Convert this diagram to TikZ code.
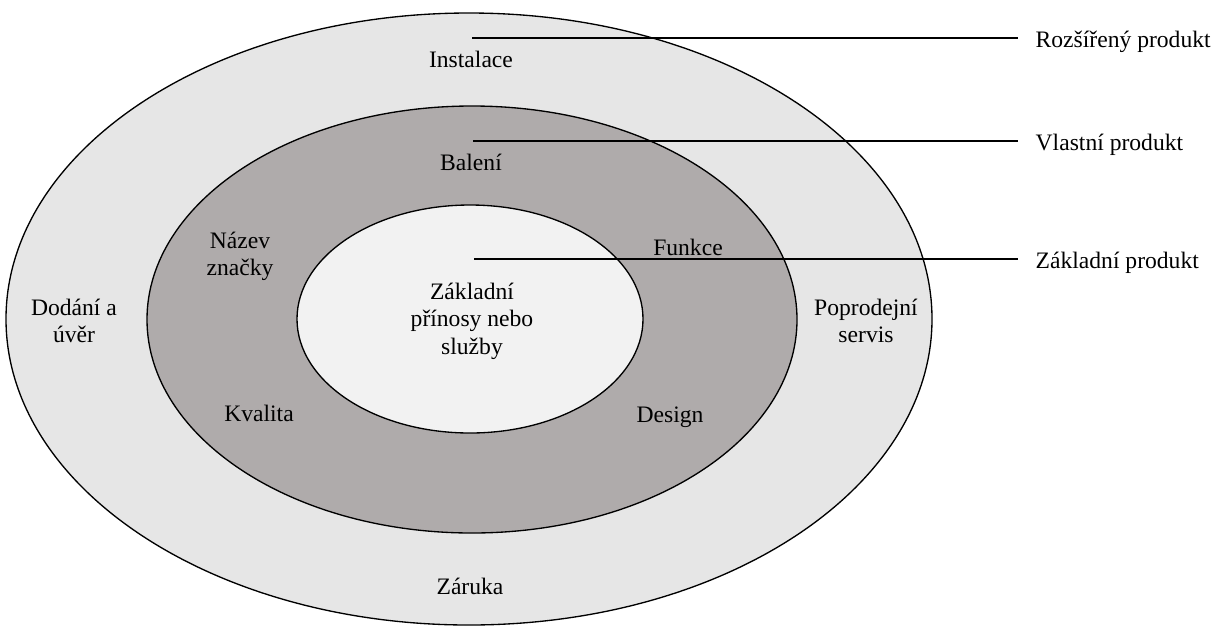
\documentclass[tikz,border=0pt]{standalone}
\usepackage{fontspec}
\setmainfont{Liberation Serif}
\definecolor{ringout}{RGB}{230,230,230}
\definecolor{ringmid}{RGB}{175,171,171}
\definecolor{ringin}{RGB}{242,242,242}

\begin{document}
\begin{tikzpicture}[x=0.75pt, y=-0.75pt, line width=1pt]
			\tikzstyle{every node} = [font=\fontsize{17.7}{20.5}\selectfont, align=center, inner sep=0pt]
			\tikzstyle{tag} = [anchor=west, inner xsep=12.75pt]
			\useasboundingbox (0,0) rectangle (1223,626);
			\fill[white] (0,0) rectangle (1223,626);
			% three product levels
			\draw[fill=ringout] (469,319) ellipse [x radius=463, y radius=306];
			\draw[fill=ringmid] (472,319.5) ellipse [x radius=325, y radius=213.5];
			\draw[fill=ringin] (470,319) ellipse [x radius=173, y radius=114];
			% outer ring
			\node (inst) at (471,59) {Instalace};
			\node (dod) at (74,321) {Dodání a\\úvěr};
			\node (serv) at (866,321) {Poprodejní\\servis};
			\node (zar) at (470,586) {Záruka};
			% middle ring
			\node (bal) at (471,162) {Balení};
			\node (naz) at (240,256) {Název\\značky};
			\node (fun) at (688,247) {Funkce};
			\node (kval) at (259,413) {Kvalita};
			\node (des) at (670,417) {Design};
			% core
			\node (jadro) at (472,321) {Základní\\přínosy nebo\\služby};
			% levels on the right
			\coordinate (ext) at (472,38);
			\coordinate (own) at (473,141);
			\coordinate (core) at (474,259);
			\node[tag] (extlab) at (1018,42) {Rozšířený produkt};
			\node[tag] (ownlab) at (1018,145) {Vlastní produkt};
			\node[tag] (corelab) at (1018,263) {Základní produkt};
			\foreach \from/\to in {ext/extlab, own/ownlab, core/corelab}
			\draw (\from) -- (\from -| \to.west);
\end{tikzpicture}
\end{document}
